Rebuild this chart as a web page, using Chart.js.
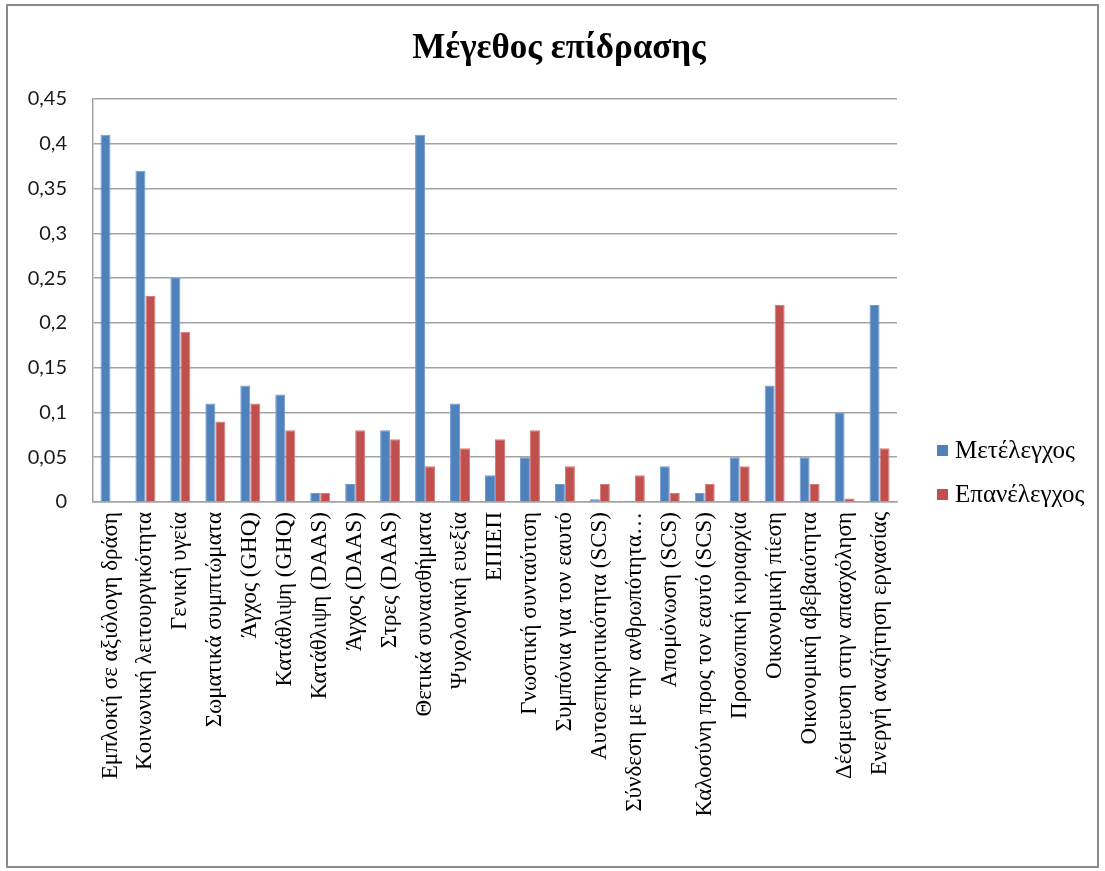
<!DOCTYPE html>
<html lang="el">
<head>
<meta charset="utf-8">
<title>Μέγεθος επίδρασης</title>
<script src="https://cdn.jsdelivr.net/npm/chart.js@4.4.1/dist/chart.umd.min.js"></script>
<style>
  html, body { margin: 0; padding: 0; background: #ffffff; }
  #wrap { position: relative; width: 1105px; height: 871px; }
</style>
</head>
<body>
<div id="wrap"><canvas id="chart" width="1105" height="871"></canvas></div>
<script>
// Categories (x axis)
const categories = [
  "Εμπλοκή σε αξιόλογη δράση",
  "Κοινωνική λειτουργικότητα",
  "Γενική υγεία",
  "Σωματικά συμπτώματα",
  "Άγχος (GHQ)",
  "Κατάθλιψη (GHQ)",
  "Κατάθλιψη (DAAS)",
  "Άγχος (DAAS)",
  "Στρες (DAAS)",
  "Θετικά συναισθήματα",
  "Ψυχολογική ευεξία",
  "ΕΠΙΕΠ",
  "Γνωστική συνταύτιση",
  "Συμπόνια για τον εαυτό",
  "Αυτοεπικριτικότητα (SCS)",
  "Σύνδεση με την ανθρωπότητα…",
  "Απομόνωση (SCS)",
  "Καλοσύνη προς τον εαυτό (SCS)",
  "Προσωπική κυριαρχία",
  "Οικονομική πίεση",
  "Οικονομική αβεβαιότητα",
  "Δέσμευση στην απασχόληση",
  "Ενεργή αναζήτηση εργασίας"
];

// Effect sizes per measurement
const metelegxos = [0.41, 0.37, 0.25, 0.11, 0.13, 0.12, 0.01, 0.02, 0.08, 0.41, 0.11, 0.03,
                    0.05, 0.02, 0.003, 0.0015, 0.04, 0.01, 0.05, 0.13, 0.05, 0.10, 0.22];
const epanelegxos = [0, 0.23, 0.19, 0.09, 0.11, 0.08, 0.01, 0.08, 0.07, 0.04, 0.06, 0.07,
                     0.08, 0.04, 0.02, 0.03, 0.01, 0.02, 0.04, 0.22, 0.02, 0.004, 0.06];

const seriesNames = ["Μετέλεγχος", "Επανέλεγχος"];
const chartTitle = "Μέγεθος επίδρασης";

// Y axis range
const yMin = 0;
const yMax = 0.45;
const yStep = 0.05;

const BLUE = "#4F81BD";
const RED = "#C0504D";
const GRID = "#a3a3a3";
const SERIF = "'Liberation Serif', 'DejaVu Serif', serif";
const SANS = "Lato, 'Open Sans', 'Liberation Sans', sans-serif";

function fmtComma(v) {
  return String(+v.toFixed(2)).replace(".", ",");
}

// Outer frame, title and right-hand legend
const decorations = {
  id: "decorations",
  beforeDraw(chart) {
    const ctx = chart.ctx;
    ctx.save();
    ctx.fillStyle = "#ffffff";
    ctx.fillRect(0, 0, chart.width, chart.height);
    ctx.restore();
  },
  afterDraw(chart) {
    const ctx = chart.ctx;
    ctx.save();
    // frame
    ctx.strokeStyle = "#8a8a8a";
    ctx.lineWidth = 2;
    ctx.strokeRect(7, 5, 1091, 862);
    // title
    ctx.fillStyle = "#000000";
    ctx.font = "bold 35px " + SERIF;
    ctx.textAlign = "center";
    ctx.textBaseline = "alphabetic";
    ctx.fillText(chartTitle, 559, 58);
    // legend
    ctx.font = "25px " + SERIF;
    ctx.textAlign = "left";
    ctx.textBaseline = "middle";
    const rows = [451, 495];
    chart.data.datasets.forEach((ds, i) => {
      const y = rows[i];
      ctx.fillStyle = ds.backgroundColor;
      ctx.fillRect(937, y - 6, 11, 11);
      ctx.fillStyle = "#000000";
      ctx.fillText(ds.label, 955, y);
    });
    ctx.restore();
  }
};

new Chart(document.getElementById("chart"), {
  type: "bar",
  data: {
    labels: categories,
    datasets: [
      { label: seriesNames[0], data: metelegxos, backgroundColor: BLUE,
        borderColor: "#6f9ad0", borderWidth: { left: 1, right: 1, top: 1, bottom: 0 } },
      { label: seriesNames[1], data: epanelegxos, backgroundColor: RED,
        borderColor: "#d77a77", borderWidth: { left: 1, right: 1, top: 1, bottom: 0 } }
    ]
  },
  options: {
    responsive: false,
    animation: false,
    devicePixelRatio: 1,
    layout: { padding: { top: 99, right: 208, left: 0, bottom: 0 } },
    datasets: { bar: { categoryPercentage: 0.572, barPercentage: 1.0 } },
    plugins: {
      legend: { display: false },
      title: { display: false },
      tooltip: { enabled: false }
    },
    scales: {
      x: {
        afterFit(scale) { scale.height = 369; },
        grid: { display: false, drawTicks: false },
        border: { display: true, color: GRID, width: 1.5 },
        ticks: {
          autoSkip: false,
          minRotation: 90,
          maxRotation: 90,
          padding: 10,
          color: "#000000",
          font: { family: SERIF, size: 23 }
        }
      },
      y: {
        min: yMin,
        max: yMax,
        afterFit(scale) { scale.width = 93; },
        grid: { color: GRID, lineWidth: 1.5, drawTicks: false },
        border: { display: true, color: GRID, width: 1.5 },
        ticks: {
          stepSize: yStep,
          padding: 26,
          color: "#1a1a1a",
          font: { family: SANS, size: 20 },
          callback: (v) => fmtComma(v)
        }
      }
    }
  },
  plugins: [decorations]
});
</script>
</body>
</html>
